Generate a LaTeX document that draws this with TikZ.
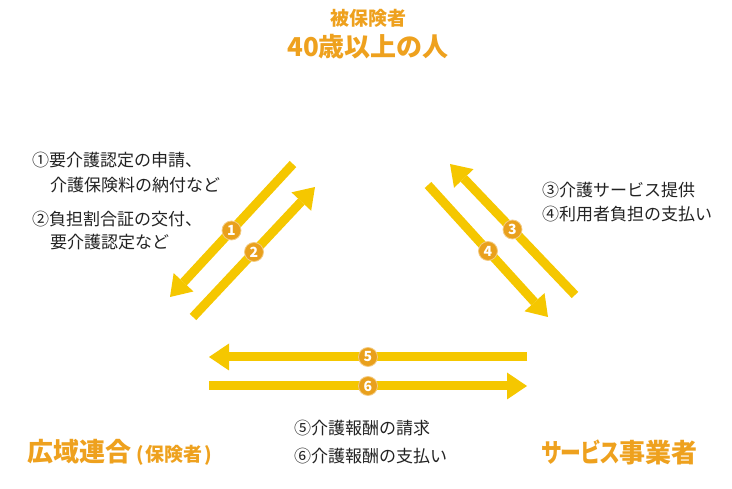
\documentclass[tikz,border=0pt]{standalone}
\usepackage{fontspec}
\usepackage{graphicx}
\setmainfont{Noto Sans CJK JP}
\usetikzlibrary{arrows.meta,calc}
\definecolor{arrowY}{HTML}{F5C700}
\definecolor{titleO}{HTML}{EEA11E}
\definecolor{badgeO}{HTML}{E9A01C}
\definecolor{txt}{HTML}{222222}
\begin{document}
\begin{tikzpicture}[x=1pt,y=-1pt,
  flow/.style={draw=arrowY,line width=9pt,-{Triangle[length=20pt,width=27pt,line width=0pt]}},
  badge/.style={circle,fill=badgeO,draw=badgeO!55!white,line width=0.8pt,minimum size=19pt,inner sep=0pt,text=white,font=\fontsize{14}{14}\selectfont\bfseries},
  lbl/.style={anchor=west,text=txt,font=\fontsize{17}{17}\selectfont,inner sep=0pt},
  ttl/.style={text=titleO,font=\fontsize{26}{26}\selectfont\bfseries,inner sep=0pt}]
\useasboundingbox (0,0) rectangle (732,489);
% titles
\node[ttl,font=\fontsize{19}{19}\selectfont\bfseries] (hk) at (368,18) {被保険者};
\node[ttl] (top) at (368,47) {40歳以上の人};
\node[ttl,anchor=west] (left) at (27,452) {広域連合\fontsize{19}{19}\selectfont\kern5pt(\kern2pt保険者\kern2pt)};
\node[ttl,anchor=west] (right) at (541,452) {\addfontfeatures{RawFeature=+palt}\scalebox{0.8}[1]{サービス}事業者};
% labels
\node[lbl] (l1) at (32,160) {①要介護認定の申請、};
\node[lbl] (l2) at (50,185) {介護保険料の納付など};
\node[lbl] (l3) at (32,219) {②負担割合証の交付、};
\node[lbl] (l4) at (50,242) {要介護認定など};
\node[lbl] (r1) at (542,190) {③介護サービス提供};
\node[lbl] (r2) at (542,214) {④利用者負担の支払い};
\node[lbl] (m1) at (294,428) {⑤介護報酬の請求};
\node[lbl] (m2) at (294,456) {⑥介護報酬の支払い};
% arrow ends
\coordinate (a1s) at (293,164); \coordinate (a1e) at (170,297);
\coordinate (a2s) at (193,317); \coordinate (a2e) at (315,187);
\coordinate (a3s) at (575,295); \coordinate (a3e) at (450,164);
\coordinate (a4s) at (428,185); \coordinate (a4e) at (548,317);
\coordinate (a5s) at (527,357); \coordinate (a5e) at (209,357);
\coordinate (a6s) at (209,386); \coordinate (a6e) at (527,386);
\draw[flow] (a1s) -- (a1e);
\draw[flow] (a2s) -- (a2e);
\draw[flow] (a3s) -- (a3e);
\draw[flow] (a4s) -- (a4e);
\draw[flow] (a5s) -- (a5e);
\draw[flow] (a6s) -- (a6e);
\node[badge] (b1) at ($(a1s)!0.5!(a1e)$) {1};
\node[badge] (b2) at ($(a2s)!0.5!(a2e)$) {2};
\node[badge] (b3) at ($(a3s)!0.5!(a3e)$) {3};
\node[badge] (b4) at ($(a4s)!0.5!(a4e)$) {4};
\node[badge] (b5) at (368,357) {5};
\node[badge] (b6) at (368,386) {6};
\end{tikzpicture}
\end{document}
